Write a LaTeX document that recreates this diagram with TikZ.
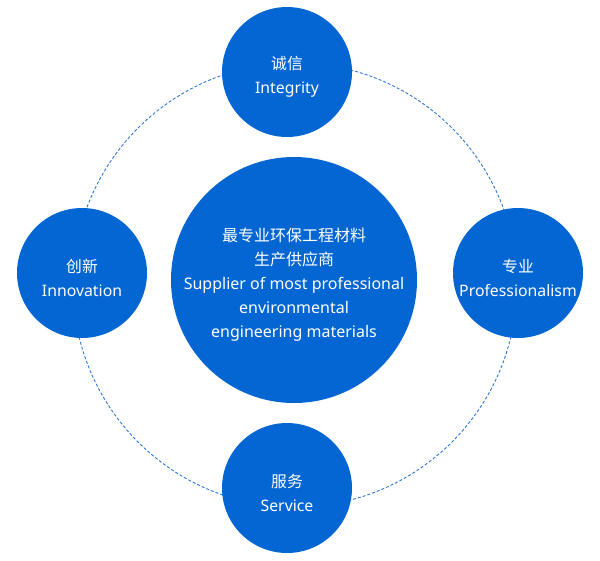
\documentclass[tikz,border=0pt]{standalone}
\usepackage{fontspec}
\setmainfont{Noto Sans}
\newfontfamily\cjk{Noto Sans CJK SC}
\usepackage{tikz}
\usepackage{xcolor}
\definecolor{BleuRond}{RGB}{3,102,210}
\definecolor{BleuAnneau}{RGB}{45,120,214}
\tikzset{
Rond/.style={
 circle, 
 fill=BleuRond, 
 minimum size=#1, 
 inner sep=0pt
 },
Texte/.style={
 text=white, 
 align=center, 
 yshift=-4.5pt, 
 font=\fontsize{#1}{24}\selectfont
 },
Anneau/.style={
 draw=BleuAnneau, 
 line width=0.9pt, 
 dash pattern=on 3pt off 2pt
 }
}

\begin{document}
\begin{tikzpicture}[x=1pt,y=-1pt]
\useasboundingbox (0,0) rectangle (600,560);
\coordinate (Milieu) at (295,285);
\draw[Anneau] (Milieu) circle (222pt);
\node[Rond=246pt,label={[Texte=16]center:{{\cjk 最专业环保工程材料}\\{\cjk 生产供应商}\\Supplier of most professional\\environmental\\engineering materials}}] (Centre) at (294,280) {};
\node[Rond=130pt,label={[Texte=15.8]center:{{\cjk 诚信}\\Integrity}}] (Integrite) at (287,72) {};
\node[Rond=130pt,label={[Texte=15.8]center:{{\cjk 专业}\\Professionalism}}] (Professionnel) at (518,273) {};
\node[Rond=130pt,label={[Texte=15.8]center:{{\cjk 创新}\\Innovation}}] (Innovation) at (82,273) {};
\node[Rond=130pt,label={[Texte=15.8]center:{{\cjk 服务}\\Service}}] (Service) at (287,488) {};
\end{tikzpicture}
\end{document}
